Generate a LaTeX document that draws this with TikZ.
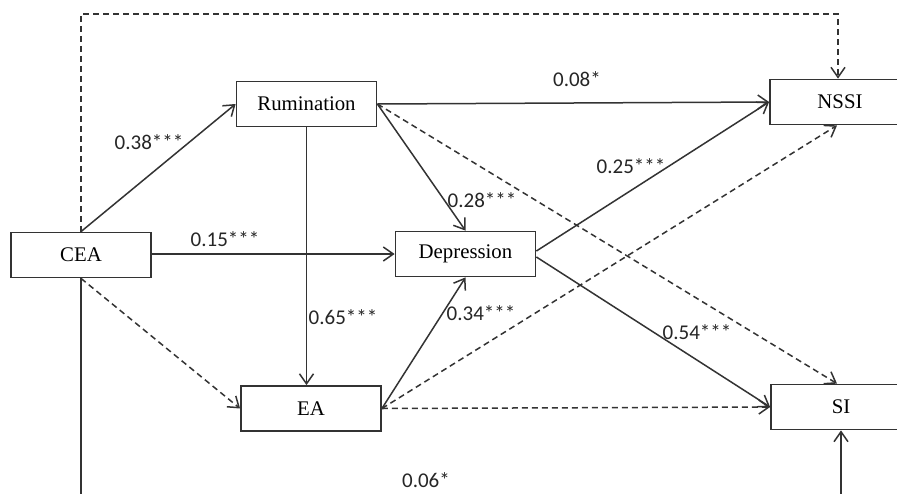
\documentclass[tikz,border=0pt]{standalone}
\usepackage{fontspec}
\setmainfont{Liberation Serif}
\newfontfamily\lblfont{Carlito}
\usetikzlibrary{arrows.meta,calc}
\definecolor{ln}{HTML}{333333}
\tikzset{
  box/.style={draw=ln, line width=1.8pt, rectangle, minimum width=140pt, minimum height=45pt, inner sep=0pt, font=\rmfamily\fontsize{20.8}{24}\selectfont, fill=white},
  conn/.style={draw=ln, line width=1.5pt, -{Straight Barb[length=10pt,width=14pt,line width=1.5pt]}},
  plain/.style={draw=ln, line width=1.5pt},
  dconn/.style={conn, dash pattern=on 6pt off 4pt},
  dplain/.style={plain, dash pattern=on 6pt off 4pt},
  lbl/.style={inner sep=0pt, font=\lblfont\fontsize{21}{24}\selectfont, text=black!85}
}
\begin{document}
\begin{tikzpicture}[x=1pt,y=-1pt]
\clip (0,0) rectangle (897,493);
\fill[white] (0,0) rectangle (897,493);
\node[box] (CEA) at (81,255) {CEA};
\node[box] (Rum) at (306.5,104) {Rumination};
\node[box] (Dep) at (465.5,254) {Depression};
\node[box] (EA) at (311,408.5) {EA};
\node[box] (NSSI) at (840,102) {NSSI};
\node[box] (SI) at (841,407) {SI};
\coordinate (topy) at (0,14);
\coordinate (boty) at (0,520);
% connectors
\draw[conn] (CEA.north) -- (Rum.west);
\draw[dconn] (CEA.north) -- (CEA.north |- topy) -- ($(NSSI.north |- topy)+(-2,0)$) -- ($(NSSI.north)+(-2,0)$);
\draw[conn] (CEA.east |- Dep.west) -- (Dep.west);
\draw[dconn] (CEA.south) -- (EA.west);
\draw[conn] (CEA.south) -- (CEA.south |- boty) -- (SI.south |- boty) -- (SI.south);
\draw[conn] (Rum.east) -- (NSSI.west);
\draw[conn] (Rum.east) -- (Dep.north);
\draw[dconn] (Rum.east) -- ($(SI.north)+(-4,0)$);
\draw[conn] (Rum.south) -- (Rum.south |- EA.north);
\draw[conn] (EA.east) -- (Dep.south);
\draw[dconn] (EA.east) -- ($(NSSI.south)+(-3,0)$);
\draw[dconn] (EA.east) -- (SI.west);
\draw[conn] ($(Dep.east)+(0,-3)$) -- (NSSI.west);
\draw[conn] ($(Dep.east)+(0,3)$) -- (SI.west);
% labels
\node[lbl] (l1) at (149,142) {0.38***};
\node[lbl] (l2) at (225,239) {0.15***};
\node[lbl] (l3) at (577,79) {0.08*};
\node[lbl] (l4) at (482,200) {0.28***};
\node[lbl] (l5) at (343,317) {0.65***};
\node[lbl] (l6) at (481,313) {0.34***};
\node[lbl] (l7) at (631,166) {0.25***};
\node[lbl] (l8) at (697,332) {0.54***};
\node[lbl] (l9) at (426,480) {0.06*};
\end{tikzpicture}
\end{document}
